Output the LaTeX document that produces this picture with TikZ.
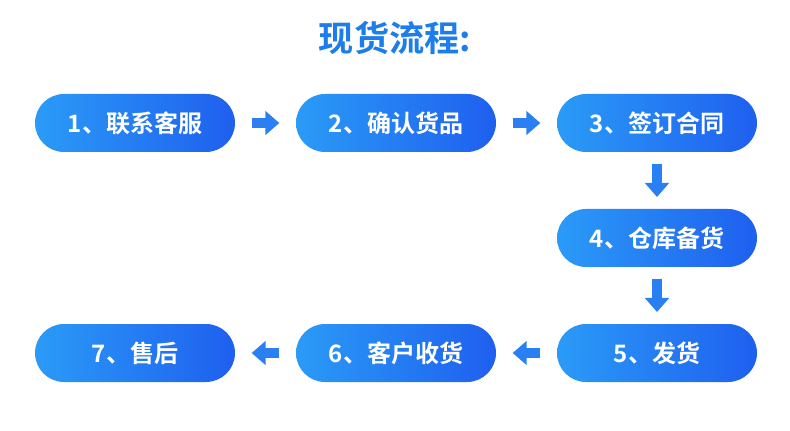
\documentclass[tikz,border=0pt]{standalone}
\usepackage{fontspec}
\setmainfont{Noto Sans CJK SC}[BoldFont=* Bold]
\usetikzlibrary{arrows.meta}
\definecolor{pillA}{HTML}{2A9BF7}
\definecolor{pillB}{HTML}{1F5FEF}
\definecolor{arrowblue}{HTML}{2A7FF2}
\definecolor{titleblue}{HTML}{1C7DEB}
\tikzset{
  step box/.style={rounded corners=29*0.03cm, minimum width=200*0.03cm, minimum height=58*0.03cm,
    left color=pillA, right color=pillB, text=white, font=\bfseries\fontsize{20.5pt}{24pt}\selectfont, inner sep=0pt},
  flow/.style={arrowblue, line width=8.5pt, -{Triangle[width=20pt,length=12pt]}, shorten <=#1, shorten >=#1},
  flow/.default=14pt
}
\begin{document}
\begin{tikzpicture}[x=0.03cm,y=-0.03cm]
  \useasboundingbox (0,0) rectangle (790,431);
  \node (title) [text=titleblue, font=\bfseries\fontsize{30pt}{34pt}\selectfont] at (395,38) {现货流程:};

  \node (s1) [step box] at (135,123) {1、联系客服};
  \node (s2) [step box] at (396,123) {2、确认货品};
  \node (s3) [step box] at (657,123) {3、签订合同};
  \node (s4) [step box] at (657,238) {4、仓库备货};
  \node (s5) [step box] at (657,353) {5、发货};
  \node (s6) [step box] at (396,353) {6、客户收货};
  \node (s7) [step box] at (135,353) {7、售后};

  \draw [flow] (s1) -- (s2);
  \draw [flow] (s2) -- (s3);
  \draw [flow=10pt] (s3) -- (s4);
  \draw [flow=10pt] (s4) -- (s5);
  \draw [flow] (s5) -- (s6);
  \draw [flow] (s6) -- (s7);
\end{tikzpicture}
\end{document}
